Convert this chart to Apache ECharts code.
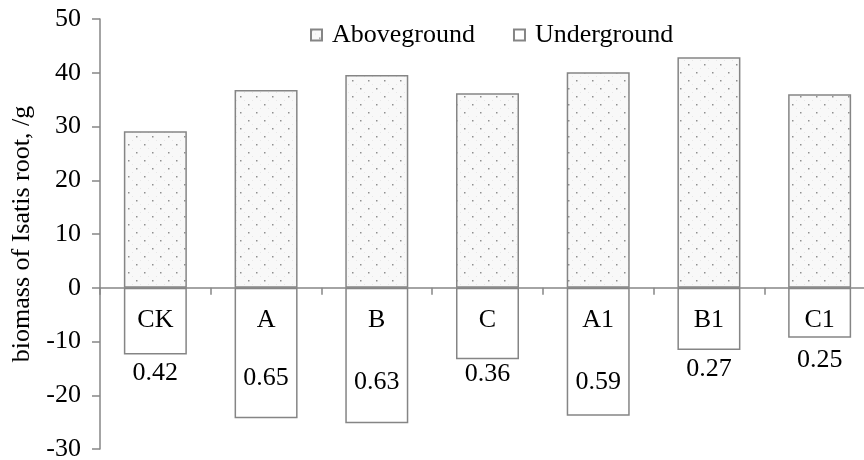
<!DOCTYPE html>
<html>
<head>
<meta charset="utf-8">
<script src="https://cdn.jsdelivr.net/npm/echarts@6/dist/echarts.min.js"></script>
<style>
html,body{margin:0;padding:0;background:#fff;}
#chart{width:864px;height:460px;}
</style>
</head>
<body>
<div id="chart"></div>
<script>
// ---- data ----
var categories = ['CK', 'A', 'B', 'C', 'A1', 'B1', 'C1'];
var aboveground = [29.1, 36.8, 39.6, 36.2, 40.1, 42.9, 36.0];
var underground = [-12.4, -24.3, -25.2, -13.3, -23.8, -11.6, -9.3];
var rootShoot = [0.42, 0.65, 0.63, 0.36, 0.59, 0.27, 0.25];
var yTicks = { min: -30, max: 50, interval: 10 };

// ---- styling ----
var FONT = "'Liberation Serif','Times New Roman',serif";
var FS = 26;
var labelDy = [85, 90, 94, 86, 94, 81, 72]; // label centre below zero line (px)

function makeDotPattern() {
  var c = document.createElement('canvas');
  c.width = 16; c.height = 16;
  var g = c.getContext('2d');
  g.fillStyle = '#f8f8f8';
  g.fillRect(0, 0, 16, 16);
  g.fillStyle = '#e6e6e6';
  g.fillRect(4, 4, 1, 1); g.fillRect(12, 12, 1, 1);
  g.fillRect(12, 4, 1, 1); g.fillRect(4, 12, 1, 1);
  g.fillStyle = '#8f8f8f';
  g.fillRect(0, 0, 1.5, 1.5);
  g.fillRect(8, 8, 1.5, 1.5);
  return c;
}
var dotPattern = makeDotPattern();

var chart = echarts.init(document.getElementById('chart'), null, { renderer: 'canvas' });

var agData = aboveground.map(function (v, i) {
  return {
    value: v,
    label: {
      show: true,
      position: 'bottom',
      distance: 19,
      formatter: categories[i]
    }
  };
});

var ugData = underground.map(function (v, i) {
  return {
    value: v,
    label: {
      show: true,
      position: ['50%', labelDy[i]],
      align: 'center',
      verticalAlign: 'middle',
      formatter: rootShoot[i].toFixed(2)
    }
  };
});

var option = {
  animation: false,
  backgroundColor: '#ffffff',
  textStyle: { fontFamily: FONT },
  legend: {
    top: 22,
    left: 310,
    padding: 0,
    itemWidth: 11,
    itemHeight: 11,
    itemGap: 38,
    icon: 'rect',
    textStyle: { fontFamily: FONT, fontSize: FS, color: '#000', padding: [0, 0, 0, 5] },
    data: ['Aboveground', 'Underground']
  },
  grid: { left: 100, width: 775, top: 19, bottom: 11, containLabel: false, outerBoundsMode: 'none' },
  xAxis: {
    type: 'category',
    data: categories,
    boundaryGap: true,
    axisLine: { onZero: true, lineStyle: { color: '#868686', width: 1.5 } },
    axisTick: { show: true, inside: false, length: 7, lineStyle: { color: '#868686', width: 1.5 } },
    axisLabel: { show: false },
    splitLine: { show: false },
    z: 10
  },
  yAxis: {
    type: 'value',
    min: yTicks.min,
    max: yTicks.max,
    interval: yTicks.interval,
    name: 'biomass of Isatis root, /g',
    nameLocation: 'middle',
    nameGap: 64,
    nameTextStyle: { fontFamily: FONT, fontSize: FS, color: '#000' },
    axisLine: { show: true, lineStyle: { color: '#868686', width: 1.5 } },
    axisTick: { show: true, length: 8, lineStyle: { color: '#868686', width: 1.5 } },
    axisLabel: { margin: 19, fontFamily: FONT, fontSize: FS, color: '#000' },
    splitLine: { show: false }
  },
  series: [
    {
      name: 'Aboveground',
      type: 'bar',
      data: agData,
      barWidth: 63,
      barGap: '-100%',
      itemStyle: {
        color: { image: dotPattern, repeat: 'repeat' },
        borderColor: '#858585',
        borderWidth: 1.5
      },
      label: { fontFamily: FONT, fontSize: FS, color: '#000' }
    },
    {
      name: 'Underground',
      type: 'bar',
      data: ugData,
      barWidth: 63,
      barGap: '-100%',
      itemStyle: { color: '#ffffff', borderColor: '#858585', borderWidth: 1.5 },
      label: { fontFamily: FONT, fontSize: FS, color: '#000' }
    }
  ]
};
chart.setOption(option);
</script>
</body>
</html>
